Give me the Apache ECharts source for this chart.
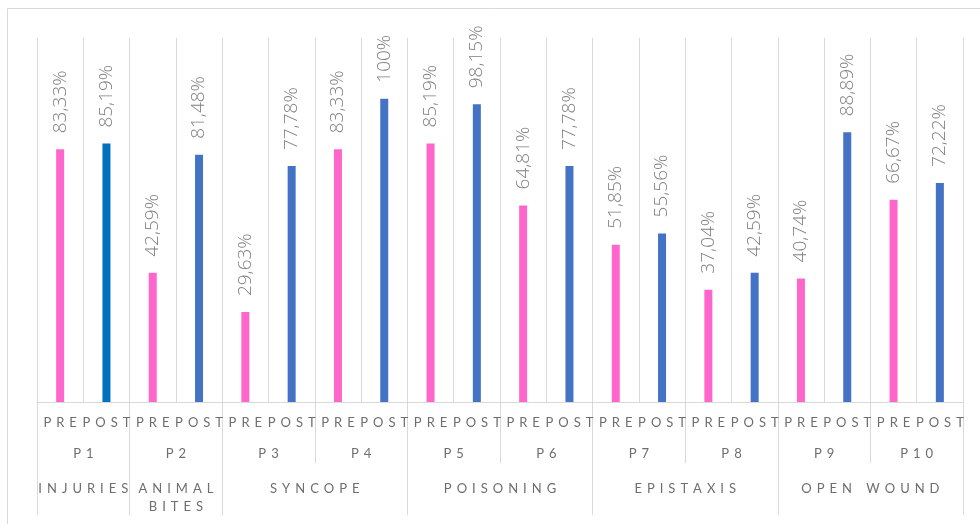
<!DOCTYPE html>
<html>
<head>
<meta charset="utf-8">
<script src="https://cdn.jsdelivr.net/npm/echarts@6/dist/echarts.min.js"></script>
<style>
  html, body { margin: 0; padding: 0; background: #fff; }
  #chart { width: 980px; height: 524px; }
</style>
</head>
<body>
<div id="chart"></div>
<script>
// data
const phases = ['PRE', 'POST'];
const patients = ['P1', 'P2', 'P3', 'P4', 'P5', 'P6', 'P7', 'P8', 'P9', 'P10'];
const preValues = [83.33, 42.59, 29.63, 83.33, 85.19, 64.81, 51.85, 37.04, 40.74, 66.67];
const postValues = [85.19, 81.48, 77.78, 100, 98.15, 77.78, 55.56, 42.59, 88.89, 72.22];
const groupNames = ['INJURIES', 'ANIMAL BITES', 'SYNCOPE', 'POISONING', 'EPISTAXIS', 'OPEN WOUND'];
const groupPatients = [1, 1, 2, 2, 2, 2]; // how many patients in each group

const PINK = '#ff66cc';
const BLUE = '#4472c4';
const GRID = '#d9d9d9';
const TEXT = '#6e6e6e';

// 20 bars: PRE/POST for each patient
const cats = [];
const values = [];
const colors = [];
patients.forEach((p, i) => {
  cats.push(phases[0], phases[1]);
  values.push(preValues[i], postValues[i]);
  colors.push(PINK, i === 0 ? '#0070c0' : BLUE);
});

// group axis runs 0..20 in bar units: edges get ticks, middles get names
const groupEdges = [0];
const groupMids = [];
groupPatients.forEach((n) => {
  const start = groupEdges[groupEdges.length - 1];
  groupMids.push(start + n);
  groupEdges.push(start + n * 2);
});

// spaced letters, like the excel axis
const spaced = (s) => s.split('\n').map(line =>
  line.split('').map(c => c === ' ' ? '{w| }' : '{l|' + c + '}').join('')
).join('\n');

const letterRich = {
  l: { padding: [0, 2.5, 0, 2.5], fontSize: 13, color: TEXT, fontFamily: 'Lato' },
  w: { padding: [0, 3, 0, 3], fontSize: 13, color: TEXT, fontFamily: 'Lato' }
};

const chart = echarts.init(document.getElementById('chart'));

const option = {
  animation: false,
  grid: { left: 37, right: 17, top: 38, bottom: 122, containLabel: false, outerBoundsMode: 'none' },
  graphic: [{
    type: 'rect',
    shape: { x: 7.5, y: 8.5, width: 1000, height: 600 },
    style: { fill: 'none', stroke: GRID, lineWidth: 1 },
    silent: true
  }],
  xAxis: [
    {
      type: 'category',
      data: cats,
      position: 'bottom',
      axisLine: { lineStyle: { color: GRID } },
      axisTick: { show: false },
      splitLine: { show: true, interval: 0, lineStyle: { color: GRID } },
      axisLabel: {
        interval: 0, margin: 14, fontFamily: 'Lato', fontSize: 13, color: TEXT,
        formatter: (v) => spaced(v), rich: letterRich
      }
    },
    {
      type: 'category',
      data: patients,
      position: 'bottom',
      axisLine: { show: false },
      axisTick: { show: true, interval: 0, length: 61, lineStyle: { color: GRID } },
      axisLabel: {
        interval: 0, margin: 45, fontFamily: 'Lato', fontSize: 13, color: TEXT,
        formatter: (v) => spaced(v), rich: letterRich
      }
    },
    {
      type: 'value',
      min: 0,
      max: cats.length,
      position: 'bottom',
      axisLine: { show: false },
      splitLine: { show: false },
      axisTick: { show: true, customValues: groupEdges, length: 113, lineStyle: { color: GRID } },
      axisLabel: {
        customValues: groupMids, margin: 78, lineHeight: 18,
        fontFamily: 'Lato', fontSize: 13, color: TEXT,
        formatter: (v) => {
          const i = groupMids.indexOf(v);
          if (i < 0) return '';
          const name = groupPatients[i] === 1 ? groupNames[i].split(' ').join('\n') : groupNames[i];
          return spaced(name);
        },
        rich: letterRich
      }
    }
  ],
  yAxis: {
    type: 'value', min: 0, max: 120, show: false
  },
  series: [{
    type: 'bar',
    xAxisIndex: 0,
    barWidth: 8,
    data: values.map((v, i) => ({ value: v, itemStyle: { color: colors[i] } })),
    label: {
      show: true,
      position: 'top',
      rotate: 90,
      align: 'left',
      verticalAlign: 'middle',
      distance: 16,
      fontFamily: 'Open Sans',
      fontWeight: 300,
      fontSize: 19,
      color: '#7f7f7f',
      formatter: (p) => String(p.value).replace('.', ',') + '%'
    }
  }]
};

chart.setOption(option);
</script>
</body>
</html>
